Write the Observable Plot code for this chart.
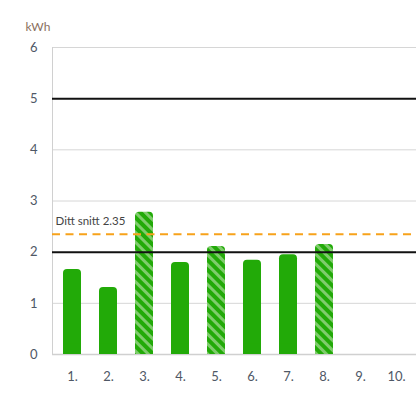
<!DOCTYPE html>
<html>
<head>
<meta charset="utf-8">
<script src="https://cdn.jsdelivr.net/npm/d3@7"></script>
<script src="https://cdn.jsdelivr.net/npm/@observablehq/plot@0.6"></script>
<style>
  html, body { margin: 0; padding: 0; background: #fff; }
  #chart { width: 416px; height: 396px; }
</style>
</head>
<body>
<div id="chart"></div>
<script>
const categories = ["1", "2", "3", "4", "5", "6", "7", "8", "9", "10"];
const values = [1.66, 1.31, 2.78, 1.80, 2.11, 1.84, 1.95, 2.15];
const hatched = [false, false, true, false, true, false, false, true];
const limits = [5, 2];
const average = 2.35;
const averageLabel = "Ditt snitt 2.35";
const yTicks = [0, 1, 2, 3, 4, 5, 6];
const gridTicks = [1, 3, 4, 6];
const unit = "kWh";

const data = values.map((v, i) => ({cat: categories[i], v, hatched: hatched[i]}));
const solid = data.filter(d => !d.hatched);
const striped = data.filter(d => d.hatched);
const GREEN = "#22aa08";

const chart = Plot.plot({
  width: 416,
  height: 396,
  marginLeft: 52,
  marginRight: 0,
  marginTop: 47,
  marginBottom: 42,
  style: {fontFamily: "Lato, 'Open Sans', sans-serif", fontSize: "13px", color: "#4f5866", background: "#fff"},
  x: {domain: categories, paddingInner: 0.5, paddingOuter: 0.2, label: null},
  y: {domain: [0, 6], label: null},
  marks: [
    Plot.gridY(gridTicks, {stroke: "#d6d6d6", strokeOpacity: 1, strokeWidth: 1}),
    Plot.frame({anchor: "left", stroke: "#d0d0d0"}),
    Plot.ruleY([0], {stroke: "#d0d0d0", strokeWidth: 1.5}),
    Plot.barY(solid, {x: "cat", y: "v", fill: GREEN, rx: 4}),
    Plot.barY(solid, {x: "cat", y1: 0, y2: d => Math.min(d.v, 0.2), fill: GREEN}),
    Plot.barY(striped, {x: "cat", y: "v", fill: "url(#hatch)", rx: 4}),
    Plot.barY(striped, {x: "cat", y1: 0, y2: d => Math.min(d.v, 0.2), fill: "url(#hatch)"}),
    Plot.ruleY(limits, {stroke: "#111", strokeWidth: 2}),
    Plot.ruleY([average], {stroke: "#f7a21b", strokeWidth: 2, strokeDasharray: "8,5.5"}),
    Plot.text([averageLabel], {frameAnchor: "left", y: [average], text: d => d, textAnchor: "start", dx: 3, dy: -13, fill: "#444", fontSize: 11.5}),
    Plot.text([unit], {frameAnchor: "top-left", text: d => d, textAnchor: "start", dx: -27, dy: -25, fill: "#8a6f60", fontSize: 12}),
    Plot.axisY({ticks: yTicks, tickSize: 0, tickPadding: 15, tickFormat: d3.format("d"), fontSize: 13, fill: "#4f5866"}),
    Plot.axisX({tickSize: 0, tickPadding: 17, tickFormat: d => d + ".", fontSize: 13, fill: "#4f5866"})
  ]
});

d3.select(chart).insert("defs", ":first-child").html(`
  <pattern id="hatch" patternUnits="userSpaceOnUse" width="7" height="7" patternTransform="rotate(-45)">
    <rect width="7" height="7" fill="${GREEN}"></rect>
    <rect x="0" width="3" height="7" fill="#7fcc6c"></rect>
  </pattern>`);

document.getElementById("chart").appendChild(chart);
</script>
</body>
</html>
